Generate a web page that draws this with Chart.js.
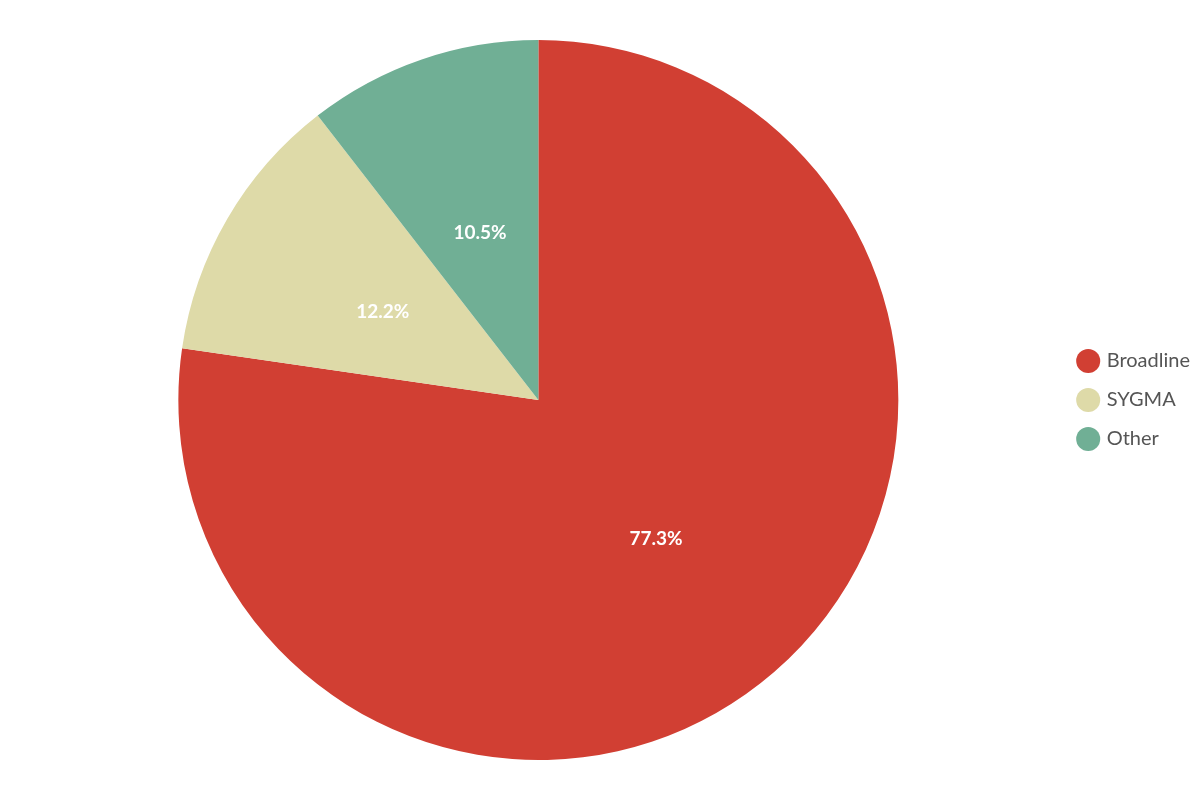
<!DOCTYPE html>
<html>
<head>
<meta charset="utf-8">
<script src="https://cdn.jsdelivr.net/npm/chart.js@4/dist/chart.umd.min.js"></script>
<style>
  html, body { margin: 0; padding: 0; background: #fff; }
  #wrap { width: 1200px; height: 800px; }
</style>
</head>
<body>
<div id="wrap"><canvas id="chart" width="1200" height="800"></canvas></div>
<script>
  const categories = ["Broadline", "SYGMA", "Other"];
  const shares = [77.3, 12.2, 10.5];
  const colors = ["#D13F33", "#DEDAA8", "#70AF95"];

  // draws the percent text in the middle of each slice
  const sliceLabels = {
    id: "sliceLabels",
    afterDatasetsDraw(chart) {
      const ctx = chart.ctx;
      const meta = chart.getDatasetMeta(0);
      ctx.save();
      ctx.fillStyle = "#fff";
      ctx.font = "bold 19px Lato";
      ctx.textAlign = "center";
      ctx.textBaseline = "middle";
      meta.data.forEach((arc, i) => {
        const mid = (arc.startAngle + arc.endAngle) / 2;
        const r = arc.outerRadius * 0.5;
        const x = arc.x + Math.cos(mid) * r;
        const y = arc.y + Math.sin(mid) * r + 3;
        ctx.fillText(shares[i].toFixed(1) + "%", x, y);
      });
      ctx.restore();
    }
  };

  new Chart(document.getElementById("chart"), {
    type: "pie",
    data: {
      labels: categories,
      datasets: [{
        data: shares,
        backgroundColor: colors,
        borderWidth: 0
      }]
    },
    options: {
      responsive: false,
      animation: false,
      layout: { padding: { top: 40, bottom: 40, left: 16, right: 0 } },
      plugins: {
        tooltip: { enabled: false },
        legend: {
          position: "right",
          labels: {
            usePointStyle: true,
            pointStyle: "circle",
            boxWidth: 17,
            boxHeight: 17,
            padding: 19,
            color: "#555",
            font: { family: "Lato", size: 20 }
          }
        }
      }
    },
    plugins: [sliceLabels]
  });
</script>
</body>
</html>
